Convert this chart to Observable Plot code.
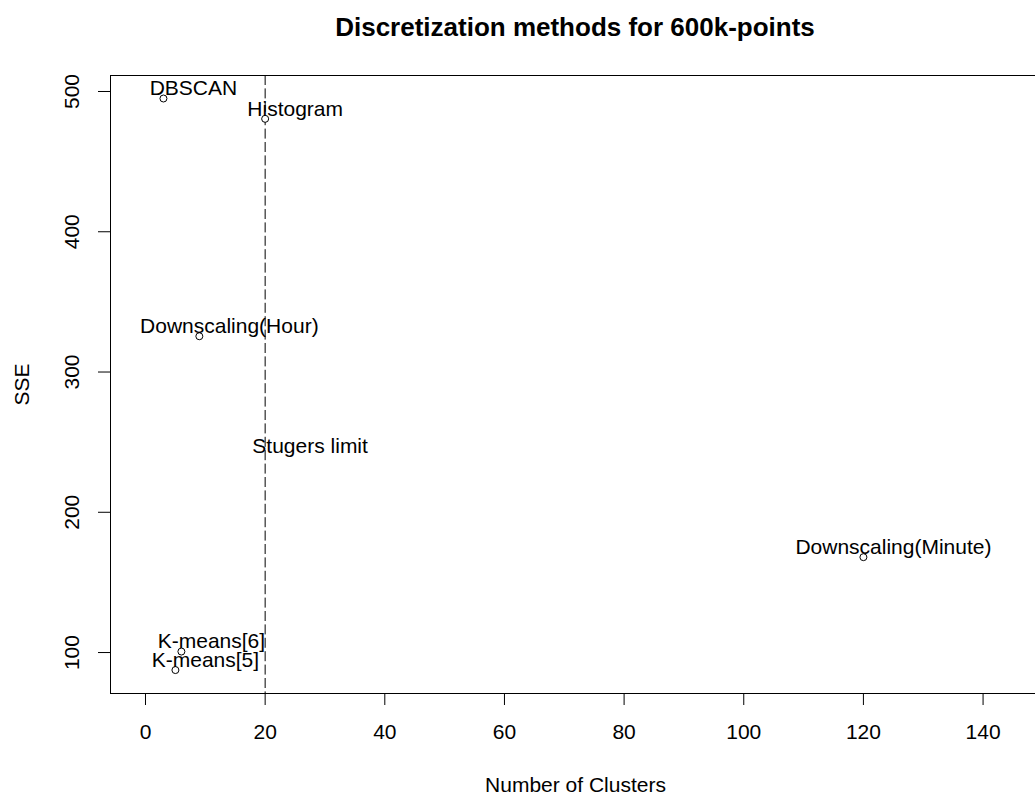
<!DOCTYPE html>
<html>
<head>
<meta charset="utf-8">
<script src="https://cdn.jsdelivr.net/npm/d3@7"></script>
<script src="https://cdn.jsdelivr.net/npm/@observablehq/plot@0.6"></script>
<style>
  html, body { margin: 0; padding: 0; overflow: hidden; background: #fff; width: 1035px; height: 798px; }
  #wrap { position: relative; width: 1100px; }
  #title { width: 1150px; height: 50px; line-height: 54px; text-align: center; font-family: "Liberation Sans", Arial, sans-serif; font-weight: bold; font-size: 26px; color: #000; white-space: nowrap; }
</style>
</head>
<body>
<div id="wrap">
  <div id="title">Discretization methods for 600k-points</div>
  <div id="chart"></div>
</div>
<script>
const methods = ["DBSCAN", "Histogram", "Downscaling(Hour)", "Downscaling(Minute)", "K-means[6]", "K-means[5]"];
const clusters = [3, 20, 9, 120, 6, 5];
const sse = [495, 480.5, 325.5, 168, 100.7, 87.5];
const xTicks = [0, 20, 40, 60, 80, 100, 120, 140];
const yTicks = [100, 200, 300, 400, 500];
const limitX = [20];
const limitLabel = [{x: 22.5, y: 240, text: "Stugers limit"}];

const data = methods.map((m, i) => ({method: m, x: clusters[i], y: sse[i]}));
const font = "Liberation Sans, Arial, sans-serif";

const chart = Plot.plot({
  width: 1100,
  height: 748,
  marginLeft: 110,
  marginRight: 60,
  marginTop: 25,
  marginBottom: 105,
  style: {fontFamily: font, fontSize: "21px", color: "#000", background: "#fff"},
  x: {domain: [-5.85, 149.6], label: null},
  y: {domain: [70.8, 511.4], label: null},
  marks: [
    Plot.frame({stroke: "#000", strokeWidth: 1}),
    Plot.axisX({ticks: xTicks, tickSize: 12, tickPadding: 19, label: null, fontSize: 21, stroke: "#000"}),
    Plot.axisY({ticks: yTicks, tickSize: 12, tickFormat: () => "", label: null, stroke: "#000"}),
    Plot.text(yTicks, {y: d => d, text: d => String(d), frameAnchor: "left", rotate: -90, dx: -38, textAnchor: "middle", lineAnchor: "middle", fontSize: 21, fill: "#000"}),
    Plot.ruleX(limitX, {stroke: "#000", strokeWidth: 1, strokeDasharray: "10,3.4"}),
    Plot.dot(data, {x: "x", y: "y", r: 3.5, stroke: "#000", fill: "#fff", strokeWidth: 1}),
    Plot.text(data, {x: "x", y: "y", text: "method", dx: 30, dy: -10, fontSize: 21, fill: "#000", lineAnchor: "middle", textAnchor: "middle"}),
    Plot.text(limitLabel, {x: "x", y: "y", text: "text", dx: 30, dy: -10, fontSize: 21, fill: "#000", lineAnchor: "middle", textAnchor: "middle"}),
    Plot.text(["Number of Clusters"], {frameAnchor: "bottom", text: d => d, dy: 92, lineAnchor: "middle", fontSize: 21, fill: "#000"}),
    Plot.text(["SSE"], {frameAnchor: "left", text: d => d, rotate: -90, dx: -88, lineAnchor: "middle", textAnchor: "middle", fontSize: 21, fill: "#000"})
  ]
});
document.getElementById("chart").appendChild(chart);
</script>
</body>
</html>
